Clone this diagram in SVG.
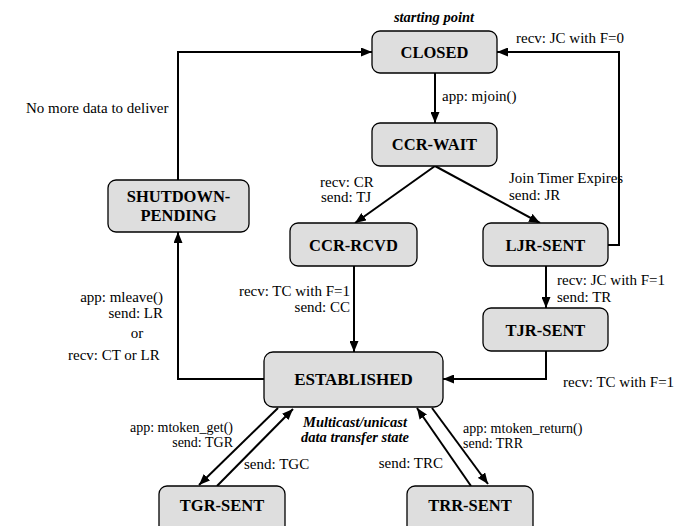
<svg xmlns="http://www.w3.org/2000/svg" width="678" height="526" viewBox="0 0 678 526" font-family="'Liberation Serif', Tinos, 'Times New Roman', 'DejaVu Serif', serif">
<defs>
<marker id="ah" markerWidth="11" markerHeight="9" refX="11" refY="4.5" orient="auto" markerUnits="userSpaceOnUse">
<path d="M0,0 L11,4.5 L0,9 z" fill="#000"/>
</marker>
</defs>
<style>
text{font-family:'Liberation Serif',Tinos,'Times New Roman','DejaVu Serif',serif;fill:#000}
.box{fill:#dedede;stroke:#000;stroke-width:1.3}
.bt{font-weight:bold;font-size:16.5px;text-anchor:middle}
.t{font-size:15px}
.s{font-size:14px}
.bi{font-size:14.5px;font-weight:bold;font-style:italic;text-anchor:middle}
.c{fill:none;stroke:#000;stroke-width:2;marker-end:url(#ah)}
.e{text-anchor:end}
.m{text-anchor:middle}
</style>
<rect width="678" height="526" fill="#fff"/>
<g id="connectors">
<path class="c" d="M435 73 V123"/>
<path class="c" d="M435 166 L355 223"/>
<path class="c" d="M435 166 L540 223"/>
<path class="c" d="M608 245 H619 V52 H497"/>
<path class="c" d="M546 266 V308"/>
<path class="c" d="M354 266 V352"/>
<path class="c" d="M546 351 V379 H443"/>
<path class="c" d="M264 379 H178 V232"/>
<path class="c" d="M178 180 V52 H372"/>
<path class="c" d="M278 408 L199 485"/>
<path class="c" d="M217 486 L293 409"/>
<path class="c" d="M432 408 L488 484"/>
<path class="c" d="M471 486 L417 408"/>
</g>
<g id="labels">
<text class="bi" x="434" y="22">starting point</text>
<text class="t" x="516" y="43">recv: JC with F=0</text>
<text class="t" x="26" y="113">No more data to deliver</text>
<text class="t" x="442" y="101">app: mjoin()</text>
<text class="t" x="320" y="187">recv: CR</text>
<text class="t" x="321" y="202">send: TJ</text>
<text class="t" x="509" y="183">Join Timer Expires</text>
<text class="t" x="509" y="200">send: JR</text>
<text class="t" x="557" y="285">recv: JC with F=1</text>
<text class="t" x="557" y="302">send: TR</text>
<text class="t e" x="350" y="296">recv: TC with F=1</text>
<text class="t e" x="350" y="312">send: CC</text>
<text class="t e" x="163" y="302">app: mleave()</text>
<text class="t e" x="163" y="318">send: LR</text>
<text class="t m" x="137" y="338">or</text>
<text class="t" x="68" y="360">recv: CT or LR</text>
<text class="t" x="563" y="387">recv: TC with F=1</text>
<text class="s e" x="233" y="432">app: mtoken_get()</text>
<text class="s e" x="233" y="447">send: TGR</text>
<text class="t" x="244" y="469">send: TGC</text>
<text class="bi" x="355" y="427">Multicast/unicast</text>
<text class="bi" x="355" y="442">data transfer state</text>
<text class="s" x="463" y="433">app: mtoken_return()</text>
<text class="s" x="463" y="448">send: TRR</text>
<text class="t e" x="443" y="468">send: TRC</text>
</g>
<g id="closed"><rect class="box" x="372" y="31" width="125" height="42" rx="8"/><text class="bt" x="434.5" y="58">CLOSED</text></g>
<g id="ccr-wait"><rect class="box" x="372" y="123" width="125" height="43" rx="8"/><text class="bt" x="434.5" y="150">CCR-WAIT</text></g>
<g id="ccr-rcvd"><rect class="box" x="290" y="223" width="127" height="43" rx="8"/><text class="bt" x="353.5" y="251">CCR-RCVD</text></g>
<g id="ljr-sent"><rect class="box" x="483" y="223" width="125" height="43" rx="8"/><text class="bt" x="545.5" y="251">LJR-SENT</text></g>
<g id="tjr-sent"><rect class="box" x="483" y="308" width="125" height="43" rx="8"/><text class="bt" x="545.5" y="336">TJR-SENT</text></g>
<g id="shutdown-pending"><rect class="box" x="108" y="180" width="141" height="52" rx="8"/><text class="bt" x="178.5" y="202">SHUTDOWN-</text><text class="bt" x="178.5" y="221">PENDING</text></g>
<g id="established"><rect class="box" x="264" y="352" width="179" height="55" rx="9"/><text class="bt" x="353.5" y="385" style="font-size:17px">ESTABLISHED</text></g>
<g id="tgr-sent"><rect class="box" x="159" y="486" width="126" height="50" rx="8"/><text class="bt" x="222" y="511">TGR-SENT</text></g>
<g id="trr-sent"><rect class="box" x="407" y="486" width="126" height="50" rx="8"/><text class="bt" x="470" y="511">TRR-SENT</text></g>
</svg>
